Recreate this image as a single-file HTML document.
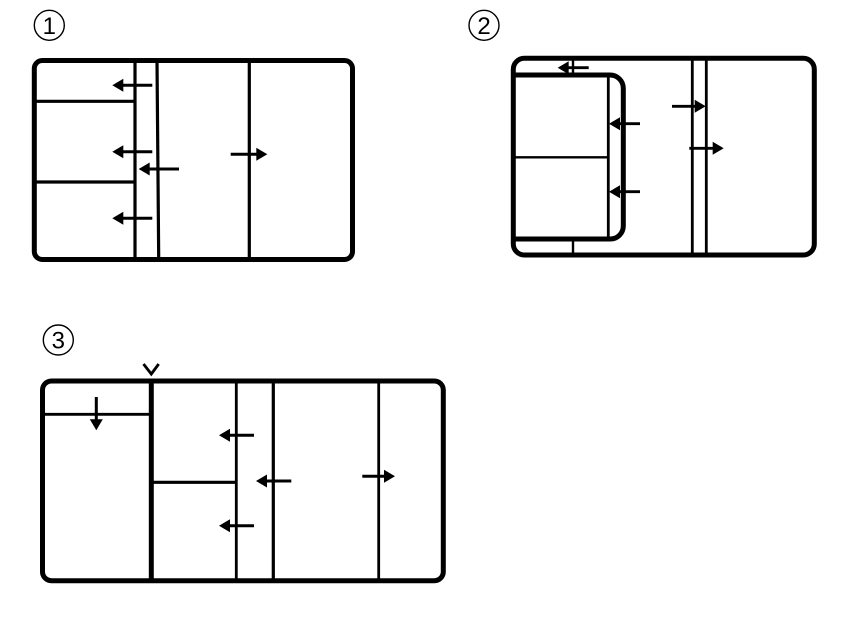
<!DOCTYPE html>
<html>
<head>
<meta charset="utf-8">
<style>
html,body{margin:0;padding:0;background:#fff;}
svg{display:block;}
text{font-family:"Liberation Sans","DejaVu Sans",sans-serif;fill:#000;}
</style>
</head>
<body>
<svg width="862" height="619" viewBox="0 0 862 619" xmlns="http://www.w3.org/2000/svg">
<defs>
<polygon id="l" points="0,0 11,-6.5 11,6.5" fill="#000"/>
<polygon id="r" points="0,0 -11,-6.5 -11,6.5" fill="#000"/>
<polygon id="d" points="0,0 -6.5,-11 6.5,-11" fill="#000"/>
<filter id="soft" filterUnits="userSpaceOnUse" x="0" y="0" width="862" height="619"><feGaussianBlur stdDeviation="0.35"/></filter>
</defs>
<rect width="862" height="619" fill="#fff"/>
<g filter="url(#soft)">

<!-- Diagram 1 -->
<circle cx="49.3" cy="25.3" r="15" fill="none" stroke="#000" stroke-width="1.4"/>
<text x="49.3" y="33.8" font-size="24" text-anchor="middle">1</text>
<g fill="none" stroke="#000">
<rect x="34.3" y="60.5" width="318.2" height="199" rx="8" stroke-width="5"/>
<path d="M135 61V258" stroke-width="3.2"/>
<path d="M157 61L158.7 258" stroke-width="3.2"/>
<path d="M249.3 61V258" stroke-width="3.2"/>
<path d="M36 101.3H135M36 182H135" stroke-width="3.2"/>
<path d="M152.3 85.3H118M152.3 151.7H118M152.3 218.3H118M179 169H145M230.7 154.3H260" stroke-width="3"/>
</g>
<use href="#l" x="112.3" y="85.3"/>
<use href="#l" x="112.3" y="151.7"/>
<use href="#l" x="112.3" y="218.3"/>
<use href="#l" x="138.7" y="169"/>
<use href="#r" x="267.3" y="154.3"/>

<!-- Diagram 2 -->
<circle cx="484" cy="25.3" r="15" fill="none" stroke="#000" stroke-width="1.4"/>
<text x="484" y="33.8" font-size="24" text-anchor="middle">2</text>
<g fill="none" stroke="#000">
<rect x="513.3" y="58.3" width="301" height="196.7" rx="11" stroke-width="5"/>
<path d="M513.3 75H610a13.3 13.3 0 0 1 13.3 13.3V226a13 13 0 0 1 -13.3 13H513.3" stroke-width="5"/>
<path d="M608.3 75V239" stroke-width="2.8"/>
<path d="M515 157.3H608.3" stroke-width="2.4"/>
<path d="M573 60V75M573 239V253" stroke-width="2.4"/>
<path d="M692.3 60V253M706.3 60V253" stroke-width="2.8"/>
<path d="M588.7 67.7H564M640 123.7H615M640 191.7H615M672 106.3H698M689.3 148.3H716" stroke-width="2.8"/>
</g>
<use href="#l" x="557.7" y="67.7"/>
<use href="#l" x="609" y="123.7"/>
<use href="#l" x="609" y="191.7"/>
<use href="#r" x="705.7" y="106.3"/>
<use href="#r" x="723.7" y="148.3"/>

<!-- Diagram 3 -->
<circle cx="58.3" cy="340" r="15" fill="none" stroke="#000" stroke-width="1.4"/>
<text x="58.3" y="348.5" font-size="24" text-anchor="middle">3</text>
<g fill="none" stroke="#000">
<rect x="42.5" y="381" width="400.8" height="199.7" rx="9" stroke-width="5"/>
<path d="M151.3 381V580" stroke-width="5"/>
<path d="M45 414.3H150" stroke-width="2.8"/>
<path d="M153 482.3H236" stroke-width="3.2"/>
<path d="M236.3 381V580" stroke-width="2.8"/>
<path d="M273.3 381V580" stroke-width="3.2"/>
<path d="M378.7 381V580" stroke-width="2.8"/>
<path d="M143.5 364L151.3 374L158.7 364" stroke-width="2.8"/>
<path d="M96.3 397V422M254 435.3H225M254 525.7H225M291.3 481H262M362.3 476.3H388" stroke-width="3"/>
</g>
<use href="#d" x="96.3" y="430.3"/>
<use href="#l" x="219" y="435.3"/>
<use href="#l" x="219" y="525.7"/>
<use href="#l" x="256" y="481"/>
<use href="#r" x="395" y="476.3"/>
</g>
</svg>
</body>
</html>
